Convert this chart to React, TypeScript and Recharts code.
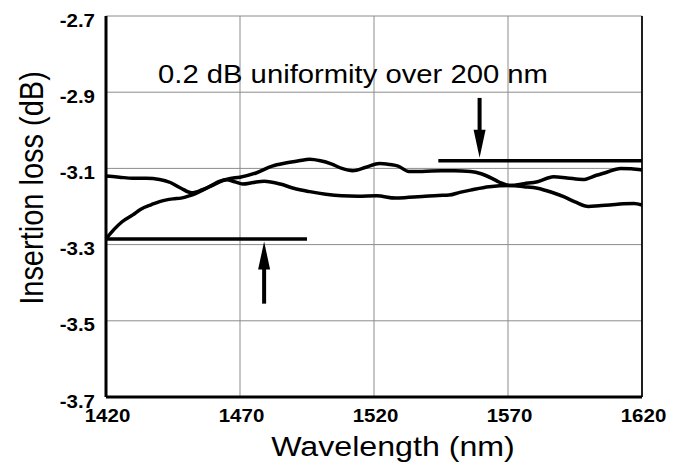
import { LineChart, Line, XAxis, YAxis, CartesianGrid, ReferenceLine } from 'recharts'

// 曲线 A：从 -3.29 上升的那条
const wlA = [
  1420, 1423, 1426, 1430, 1433, 1437, 1440, 1445, 1448, 1451, 1454, 1458, 1462, 1466, 1470, 1476,
  1482, 1487, 1492, 1496, 1500, 1504, 1508, 1512, 1517, 1522, 1526, 1529, 1533, 1538, 1545, 1550,
  1556, 1560, 1564, 1567, 1571, 1576, 1581, 1587, 1592, 1598, 1603, 1606, 1612, 1616, 1620
]
const lossA = [
  -3.285, -3.26, -3.24, -3.222, -3.207, -3.195, -3.187, -3.18, -3.178, -3.172, -3.164, -3.15,
  -3.135, -3.127, -3.123, -3.112, -3.094, -3.086, -3.08, -3.076, -3.08, -3.088, -3.1, -3.106,
  -3.097, -3.087, -3.09, -3.094, -3.108, -3.108, -3.106, -3.106, -3.108, -3.114, -3.126, -3.137,
  -3.145, -3.14, -3.135, -3.122, -3.125, -3.129, -3.118, -3.112, -3.1, -3.101, -3.104
]

// 曲线 B：从 -3.12 开始，右端降到 -3.19
const wlB = [
  1420, 1425, 1430, 1435, 1440, 1444, 1448, 1452, 1456, 1460, 1465, 1468, 1471, 1475, 1479, 1485,
  1490, 1496, 1502, 1508, 1514, 1521, 1528, 1533, 1538, 1544, 1548, 1552, 1556, 1563, 1571, 1576,
  1581, 1586, 1591, 1595, 1600, 1604, 1608, 1613, 1617, 1620
]
const lossB = [
  -3.12, -3.123, -3.126, -3.126, -3.129, -3.137, -3.152, -3.164, -3.156, -3.144, -3.13, -3.135,
  -3.141, -3.137, -3.134, -3.141, -3.152, -3.161, -3.168, -3.172, -3.173, -3.172, -3.178, -3.176,
  -3.174, -3.171, -3.17, -3.163, -3.157, -3.148, -3.145, -3.148, -3.152, -3.162, -3.175, -3.188,
  -3.2, -3.198, -3.196, -3.193, -3.192, -3.196
]

const xTicks = [1420, 1470, 1520, 1570, 1620]
const yTicks = [-3.7, -3.5, -3.3, -3.1, -2.9, -2.7]

const seriesA = wlA.map((wl, i) => ({ wl, loss: lossA[i] }))
const seriesB = wlB.map((wl, i) => ({ wl, loss: lossB[i] }))

const FONT = '"Liberation Sans", Arial, sans-serif'
const SX = 1.17

const Txt = ({ x, y, text, size, anchor = 'start', weight = 'normal', rotate = 0 }: any) => (
  <text
    transform={`translate(${x},${y}) scale(${SX},1)${rotate ? ` rotate(${rotate})` : ''}`}
    textAnchor={anchor}
    fontSize={size}
    fontWeight={weight}
    fontFamily={FONT}
    fill="#000"
  >
    {text}
  </text>
)

const YTick = ({ y, payload }: any) => (
  <Txt x={95} y={y + 10.5} text={Number(payload.value).toFixed(1)} size={17.5} anchor="end" weight="bold" />
)

const XTick = ({ x, payload }: any) => (
  <Txt x={x + 1.5} y={422} text={payload.value} size={17.5} anchor="middle" weight="bold" />
)

// 箭头：轴线 + 三角箭头
const Arrow = (props: any) => {
  const { x1, y1, x2, y2 } = props
  const dir = y2 > y1 ? 1 : -1
  const headLen = 28
  const half = 6
  const baseY = y2 - dir * headLen
  return (
    <g>
      <line x1={x1} y1={y1} x2={x2} y2={baseY + dir * 4} stroke="#000" strokeWidth={4} />
      <polygon points={`${x2},${y2} ${x2 - half},${baseY} ${x2 + half},${baseY}`} fill="#000" />
    </g>
  )
}

const App = () => {
  return (
    <div style={{ position: 'absolute', left: 0, top: 0, background: '#fff' }}>
      <LineChart width={679} height={463} margin={{ top: 16, right: 37, left: 0, bottom: 0 }}>
        <CartesianGrid stroke="#8c8c8c" strokeWidth={1} />
        <XAxis
          dataKey="wl"
          type="number"
          domain={[1420, 1620]}
          ticks={xTicks}
          allowDuplicatedCategory={false}
          tick={<XTick />}
          tickLine={false}
          axisLine={{ stroke: '#000', strokeWidth: 3 }}
          height={66}
          label={{
            content: () => <Txt x={393} y={456} text="Wavelength (nm)" size={27.5} anchor="middle" />
          }}
        />
        <YAxis
          type="number"
          domain={[-3.7, -2.7]}
          ticks={yTicks}
          tick={<YTick />}
          tickLine={false}
          axisLine={{ stroke: '#000', strokeWidth: 3 }}
          width={106}
          label={{
            content: () => (
              <Txt x={43} y={188} text="Insertion loss (dB)" size={29} anchor="middle" rotate={-90} />
            )
          }}
        />
        <ReferenceLine x={1620} stroke="#000" strokeWidth={1.7} />
        <ReferenceLine
          segment={[
            { x: 1544, y: -3.08 },
            { x: 1620, y: -3.08 }
          ]}
          stroke="#000"
          strokeWidth={3.5}
          label={{
            content: () => <Txt x={158} y={83} text="0.2 dB uniformity over 200 nm" size={25} />
          }}
        />
        <ReferenceLine
          segment={[
            { x: 1420, y: -3.285 },
            { x: 1495, y: -3.285 }
          ]}
          stroke="#000"
          strokeWidth={3.5}
        />
        <ReferenceLine
          segment={[
            { x: 1559.4, y: -2.915 },
            { x: 1559.4, y: -3.072 }
          ]}
          shape={Arrow}
        />
        <ReferenceLine
          segment={[
            { x: 1479, y: -3.455 },
            { x: 1479, y: -3.292 }
          ]}
          shape={Arrow}
        />
        <Line
          data={seriesA}
          dataKey="loss"
          type="monotone"
          stroke="#000"
          strokeWidth={3.5}
          dot={false}
          isAnimationActive={false}
        />
        <Line
          data={seriesB}
          dataKey="loss"
          type="monotone"
          stroke="#000"
          strokeWidth={3.5}
          dot={false}
          isAnimationActive={false}
        />
      </LineChart>
    </div>
  )
}

export default App
